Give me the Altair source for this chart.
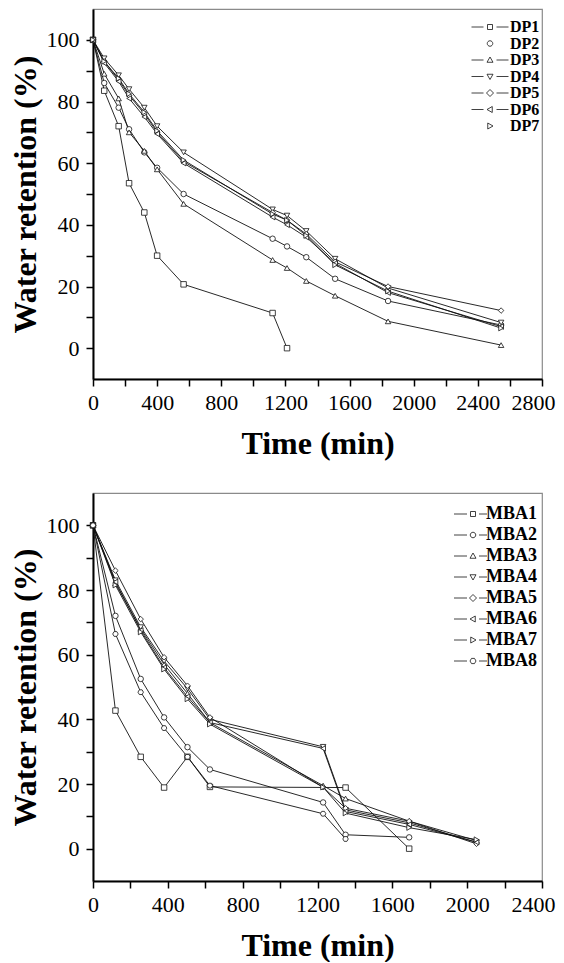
import altair as alt
import pandas as pd

# ---------------- data ----------------
DP_NAMES = ["DP1", "DP2", "DP3", "DP4", "DP5", "DP6", "DP7"]
DP_TIME = [0, 70, 160, 225, 320, 400, 565, 1120, 1210, 1330, 1510, 1840, 2545]
DP1 = [100, 83.5, 72, 53.5, 44, 30, 20.7, 11.4, 0]
DP2 = [100, 86, 78, 71, 63.5, 58.5, 50, 35.5, 33, 29.5, 22.5, 15.3, 7.5]
DP3 = [100, 89, 81, 70, 64, 58, 46.8, 28.6, 26, 21.8, 17, 8.7, 1]
DP4 = [100, 94, 88.5, 84, 78, 72, 63.5, 45, 43, 38, 29, 19.5, 8.3]
DP5 = [100, 93, 87, 82, 76, 70, 60.5, 44, 41.5, 37, 28, 20, 12.2]
DP6 = [100, 92.5, 86.5, 81, 75, 69.5, 60, 42.5, 40, 36, 27.5, 18, 7]
DP7 = [100, 93, 87.5, 82.5, 76.5, 70.5, 61, 43.5, 41.5, 36.5, 27, 18.5, 6.5]

MBA_NAMES = ["MBA1", "MBA2", "MBA3", "MBA4", "MBA5", "MBA6", "MBA7", "MBA8"]
MBA_TIME = [0, 120, 255, 380, 505, 625, 1230, 1350, 1690, 2050]
MBA1_TIME = [0, 120, 255, 380, 505, 625, 1350, 1690]
MBA1 = [100, 42.7, 28.4, 18.9, 28.4, 19.1, 18.9, 0]
MBA2 = [100, 72, 52.5, 40.6, 31.4, 24.5, 14.3, 4.3, 3.5]
MBA3 = [100, 82, 68, 57, 48, 39, 19.5, 15.5, 8.5, 2.5]
MBA4 = [100, 83, 68.5, 58, 49.5, 40, 31.5, 12, 8, 2]
MBA5 = [100, 86, 71, 59.2, 50.4, 40.6, 19, 12.5, 8.5, 1.5]
MBA6 = [100, 82.5, 67.5, 56, 47, 39, 31, 11.5, 7.5, 2]
MBA7 = [100, 81.5, 67, 55.5, 46.3, 38.5, 19, 11, 6.5, 2.8]
MBA8 = [100, 66.4, 48.4, 37.3, 28.4, 19.5, 10.8, 3.0]

DP_VALUES = [DP1, DP2, DP3, DP4, DP5, DP6, DP7]
MBA_VALUES = [MBA1, MBA2, MBA3, MBA4, MBA5, MBA6, MBA7, MBA8]
MBA_TIMES = [MBA1_TIME] + [MBA_TIME] * 7


def frame(names, times_list, values_list):
    rows = []
    for name, ts, vs in zip(names, times_list, values_list):
        for t, v in zip(ts, vs):
            rows.append({"series": name, "time": t, "ret": v})
    return pd.DataFrame(rows)


dp_df = frame(DP_NAMES, [DP_TIME] * 7, DP_VALUES)
mba_df = frame(MBA_NAMES, MBA_TIMES, MBA_VALUES)

# ---------------- symbols ----------------
HEX = "M-1,0L-0.5,-0.866L0.5,-0.866L1,0L0.5,0.866L-0.5,0.866Z"
DP_SHAPES = ["square", "circle", "triangle-up", "triangle-down", "diamond",
             "triangle-left", "triangle-right"]
MBA_SHAPES = DP_SHAPES + [HEX]

M_SQ = "M-0.5,-0.5H0.5V0.5H-0.5Z"
M_CI = "M0.55,0A0.55,0.55 0 1,1 -0.55,0A0.55,0.55 0 1,1 0.55,0Z"
M_TU = "M0,-0.6L0.6,0.45L-0.6,0.45Z"
M_TD = "M0,0.6L0.6,-0.45L-0.6,-0.45Z"
M_DI = "M0,-0.7L0.7,0L0,0.7L-0.7,0Z"
M_TL = "M-0.6,0L0.45,-0.6L0.45,0.6Z"
M_TR = "M0.6,0L-0.45,-0.6L-0.45,0.6Z"
M_HX = "M-0.6,0L-0.3,-0.52L0.3,-0.52L0.6,0L0.3,0.52L-0.3,0.52Z"

DASH_TOP = "M-3.7,0H-1.3M1.3,0H3.7"
DASH_BOT = "M-3.8,0H-1.2M1.2,0H2.8"
DP_LEG = [DASH_TOP + M_SQ, M_CI, DASH_TOP + M_TU, DASH_TOP + M_TD,
          DASH_TOP + M_DI, DASH_TOP + M_TL, M_TR]
MBA_LEG = [DASH_BOT + m for m in [M_SQ, M_CI, M_TU, M_TD, M_DI, M_TL, M_TR, M_HX]]

FONT = "Liberation Serif"


def panel(df, names, shapes, leg_paths, xmax, height, lx, ly, lsize, rpad, loff):
    xticks = list(range(0, xmax + 1, 200))
    base = alt.Chart(df).encode(
        x=alt.X("time:Q",
                scale=alt.Scale(domain=[0, xmax], nice=False, zero=False),
                axis=alt.Axis(title="Time (min)", values=xticks, format="d",
                              labelOverlap=False, labelFlush=False,
                              labelOffset={"condition": {"test": f"datum.value == {xmax}",
                                                         "value": -9}, "value": 0},
                              labelExpr="datum.value % 400 == 0 ? datum.label : ''")),
        y=alt.Y("ret:Q",
                scale=alt.Scale(domain=[-10, 110], nice=False, zero=False),
                axis=alt.Axis(title="Water retention (%)", values=list(range(0, 101, 10)),
                              labelOverlap=False, labelFlush=False,
                              labelExpr="datum.value % 20 == 0 ? datum.label : ''")),
    )
    lines = base.mark_line(color="#111111", strokeWidth=0.9).encode(
        detail="series:N", order="time:Q")
    pts = base.mark_point(filled=True, fill="white", stroke="#111111", strokeWidth=0.8,
                          size=30, opacity=1).encode(
        shape=alt.Shape("series:N", scale=alt.Scale(domain=names, range=shapes), legend=None))
    leg = base.mark_point(filled=False, color="#111111", strokeWidth=0.8,
                          size=100, opacity=1).encode(
        shape=alt.Shape("series:N", scale=alt.Scale(domain=names, range=leg_paths),
                        legend=alt.Legend(title=None, orient="none", legendX=lx, legendY=ly,
                                          symbolSize=100, symbolStrokeWidth=0.8,
                                          symbolStrokeColor="#111111",
                                          labelFont=FONT, labelFontWeight="bold",
                                          labelFontSize=lsize, labelColor="black",
                                          rowPadding=rpad, labelOffset=loff, padding=0))
    ).transform_filter("false")
    return alt.layer(lines, pts, leg).resolve_scale(shape="independent").properties(
        width=449, height=height)


top = panel(dp_df, DP_NAMES, DP_SHAPES, DP_LEG, 2800, 370, 389, 10, 16, 0.5, 12)
bottom = panel(mba_df, MBA_NAMES, MBA_SHAPES, MBA_LEG, 2400, 388, 371, 12, 18, 3, 4)

chart = alt.vconcat(top, bottom, spacing=32).properties(
    padding={"left": 0, "top": 0, "right": 0, "bottom": 0}
).configure_view(
    stroke="#8a8a8a", strokeWidth=1.2
).configure_axis(
    grid=False, domainColor="black", domainWidth=2, tickColor="black", tickWidth=1.5,
    tickSize=7, labelFont=FONT, labelFontSize=22, labelColor="black", labelPadding=6,
    titleFont=FONT, titleFontSize=32, titleFontWeight="bold", titleColor="black",
).configure_axisX(
    labelPadding=6, titlePadding=15
).configure_axisY(
    labelPadding=7, titlePadding=4
)

chart.save("out.html", embed_options={"renderer": "svg", "actions": False})
